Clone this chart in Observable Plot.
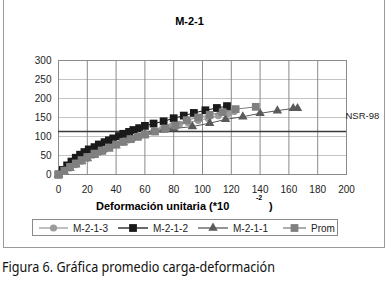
<!DOCTYPE html>
<html><head><meta charset="utf-8">
<script src="https://cdn.jsdelivr.net/npm/d3@7"></script>
<script src="https://cdn.jsdelivr.net/npm/@observablehq/plot@0.6"></script>
<style>
body{margin:0;background:#fff;}
#wrap{position:relative;width:390px;height:285px;overflow:hidden;font-family:"Liberation Sans",Arial,sans-serif;}
#box{position:absolute;left:3px;top:-1px;width:380px;height:247px;border:1px solid #9a9a9a;}
#chart{position:absolute;left:0;top:0;}
.abs{position:absolute;white-space:nowrap;}
</style></head><body>
<div id="wrap">
<div id="box"></div>
<div id="chart"></div>
<div class="abs" style="left:0;width:379px;top:15px;text-align:center;font-weight:bold;font-size:11px;">M-2-1</div>
<div class="abs" style="left:96px;top:200px;font-weight:bold;font-size:11px;">Deformación unitaria (*10</div>
<div class="abs" style="left:256px;top:194px;font-weight:bold;font-size:7px;">-2</div>
<div class="abs" style="left:269px;top:200px;font-weight:bold;font-size:11px;">)</div>
<svg id="legend" class="abs" style="left:0;top:0" width="390" height="285"></svg>
</div>
<script>
const title = "M-2-1";
const seriesNames = ["M-2-1-3", "M-2-1-2", "M-2-1-1", "Prom"];
const xTicks = [0,20,40,60,80,100,120,140,160,180,200];
const yTicks = [0,50,100,150,200,250,300];
const nsrValue = 113;
const nsrLabel = "NSR-98";
const caption = "Figura 6. Gráfica promedio carga-deformación";

const m213x = [0,4,8,12,16,20,24,28,32,36,40,44,48,52,56,60,66,72,78,84,90,97,104,111,118,122];
const m213y = [0,8,17,26,35,43,51,58,65,72,78,85,91,96,101,106,113,119,126,132,137,142,148,155,161,166];
const m212x = [0,3,6,9,12,15,18,21,25,28,32,35,38,42,45,49,52,56,60,66,73,80,87,94,102,110,117];
const m212y = [0,12,24,34,44,52,59,66,72,79,85,90,95,101,107,112,117,122,128,134,140,148,155,162,169,175,180];
const m211x = [0,4,8,12,16,20,25,30,35,40,45,50,55,60,66,73,80,93,105,116,128,140,152,163,166];
const m211y = [0,8,17,26,34,42,51,60,68,76,84,92,99,105,112,118,121,126,135,145,152,161,168,174,174];
const promx = [0,4,8,12,16,20,25,30,35,40,45,50,55,60,67,74,81,89,97,105,114,123,137];
const promy = [0,10,20,29,38,46,55,63,71,79,86,93,99,105,113,121,129,143,150,157,164,172,178];

const colors = ["#9c9c9c", "#1a1a1a", "#5a5a5a", "#808080"];
const symbols = ["circle", "square", "triangle", "square"];
const radii = [3.6, 4.4, 3.5, 4.4];

const xs = [m213x, m212x, m211x, promx];
const ys = [m213y, m212y, m211y, promy];
const series = xs.map((xv, i) => xv.map((x, j) => ({x, y: ys[i][j]})));

const marks = [
  Plot.gridY(yTicks, {stroke:"#c4c4c4", strokeOpacity:1}),
  Plot.gridX(xTicks, {stroke:"#8a8a8a", strokeOpacity:1}),
  Plot.frame({stroke:"#8a8a8a"}),
  Plot.axisX(xTicks, {tickSize:0, tickPadding:11, fontSize:10, label:null}),
  Plot.axisY(yTicks, {tickSize:0, tickPadding:7, fontSize:10, label:null}),
  Plot.ruleY([nsrValue], {stroke:"#3a3a3a", strokeWidth:1.4}),
  Plot.text([{x:200, y:153, t:nsrLabel}], {x:"x", y:"y", text:"t", textAnchor:"start", dx:-1, fontSize:9.5, clip:false})
];
series.forEach((d, i) => {
  marks.push(Plot.line(d, {x:"x", y:"y", stroke:colors[i], strokeWidth:1}));
  marks.push(Plot.dot(d, {x:"x", y:"y", symbol:symbols[i], fill:colors[i], r:radii[i]}));
});

const chart = Plot.plot({
  width:390, height:248,
  marginLeft:58, marginRight:44, marginTop:60, marginBottom:74,
  x:{domain:[0,200]}, y:{domain:[0,300]},
  style:{fontFamily:"'Liberation Sans', Arial, sans-serif", color:"#222", background:"transparent", overflow:"visible"},
  marks
});
document.getElementById("chart").appendChild(chart);

// legend
const svg = d3.select("#legend");
svg.append("rect").attr("x",32.5).attr("y",219.5).attr("width",305).attr("height",16)
  .attr("fill","#fff").attr("stroke","#8a8a8a");
const itemX = [39, 118, 198, 283];
const itemW = [29, 30, 30, 23];
itemX.forEach((x0, i) => {
  const cy = 228;
  svg.append("line").attr("x1",x0).attr("x2",x0+itemW[i]).attr("y1",cy).attr("y2",cy)
    .attr("stroke",colors[i]).attr("stroke-width",1.3);
  const sym = d3.symbol().type(symbols[i]==="circle"?d3.symbolCircle:symbols[i]==="square"?d3.symbolSquare:d3.symbolTriangle)
    .size(Math.PI*radii[i]*radii[i]);
  svg.append("path").attr("d",sym()).attr("transform",`translate(${x0+itemW[i]/2},${cy})`).attr("fill",colors[i]);
  svg.append("text").attr("x",x0+itemW[i]+5).attr("y",cy+3.5).attr("font-size",10)
    .attr("font-family","'Liberation Sans', Arial, sans-serif").attr("fill","#222").text(seriesNames[i]);
});
svg.append("text").attr("x",2).attr("y",272).attr("font-size",15)
  .attr("font-family","'Noto Sans', sans-serif").attr("fill","#111")
  .attr("textLength",273).attr("lengthAdjust","spacingAndGlyphs").text(caption);
</script>
</body></html>
